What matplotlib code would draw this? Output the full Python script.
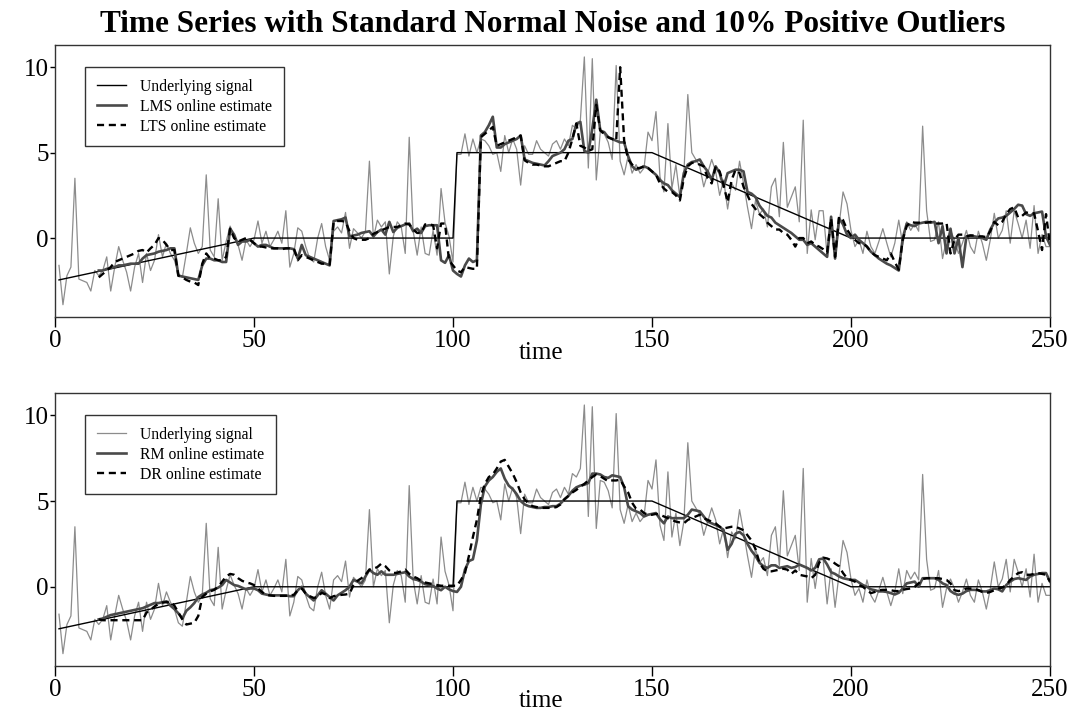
import matplotlib
matplotlib.use("Agg")
import matplotlib.pyplot as plt
from matplotlib.lines import Line2D
import numpy as np

plt.rcParams['font.family'] = ['Liberation Serif', 'DejaVu Serif']

# ---------------- data ----------------
time_obs = list(range(1, 251))
time_est = list(range(11, 251))

# underlying signal knots
signal_t = [1, 50, 100, 101, 150, 200, 250]
signal_v = [-2.45, 0, 0, 5, 5, 0, 0]

observed = [
    -1.6, -3.9, -2.2, -1.7, 3.5, -2.4, -2.5, -2.6, -3.1, -1.9,
    -2.2, -1.9, -1.1, -3.1, -1.7, -0.5, -1.3, -2.0, -3.1, -1.7,
    -0.9, -2.6, -0.9, -1.9, -1.3, 0.2, -1.1, -0.3, -0.9, -1.3,
    -2.1, -2.3, -0.9, 0.6, -0.3, -0.9, -0.5, 3.7, -0.7, -1.1,
    2.3, -1.3, -0.2, 0.7, 0.1, -0.4, -1.3, -0.1, -0.5, -0.1,
    1.0, -0.3, 0.4, -0.5, -0.1, 0.4, -0.3, 1.6, -1.7, -0.9,
    0.6, 0.4, -0.5, -1.2, -1.4, 0.0, 0.85, -0.5, -1.3, 0.4,
    0.65, 0.3, 1.5, -0.6, 0.55, 0.3, 0.0, 0.4, 4.5, 0.0,
    1.05, 0.65, 0.95, -2.1, 0.1, 0.95, 0.65, -0.9, 5.9, 0.4,
    -1.0, 0.65, -0.9, -1.0, 0.45, -1.0, 2.9, 0.9, 0.1, -1.4,
    4.9, 4.9, 6.1, 4.8, 5.8, 5.0, 5.8, 5.7, 5.4, 4.9,
    5.0, 3.9, 6.0, 5.0, 5.8, 5.2, 3.1, 5.4, 4.9, 4.9,
    5.7, 5.2, 5.0, 4.8, 5.5, 5.7, 5.2, 5.8, 5.4, 6.6,
    6.4, 6.9, 10.6, 4.1, 10.5, 3.4, 6.2, 6.1, 5.6, 4.6,
    10.1, 4.5, 3.7, 4.8, 3.8, 4.3, 3.8, 4.1, 6.2, 5.7,
    7.4, 3.6, 2.7, 6.7, 2.9, 4.3, 2.4, 3.8, 8.4, 5.0,
    4.6, 4.2, 3.0, 3.8, 4.6, 3.9, 2.5, 3.4, 1.7, 3.2,
    2.8, 4.5, 3.2, 1.8, 0.55, 2.2, 1.4, 1.7, 0.65, 3.0,
    3.5, 1.25, 5.6, 1.8, 2.4, 3.0, 0.95, 6.9, -0.9, 1.65,
    -0.1, 1.6, 1.6, -1.0, 1.05, -1.2, 0.75, 2.7, 2.0, 0.45,
    -0.5, -0.1, -0.9, 0.4, -0.5, -0.9, -0.2, 0.55, -0.3, -1.1,
    -0.3, 1.05, -0.4, 0.95, 0.45, 0.85, 0.4, 6.55, 1.6, -0.2,
    -0.1, 0.95, -1.2, -0.1, 0.45, -0.1, -0.9, -0.3, 0.45, -0.5,
    -0.9, 0.4, -0.3, -1.3, -0.1, 1.45, 0.0, 0.45, 1.6, -0.3,
    1.6, 0.85, 0.0, 1.05, -0.6, 1.9, -0.9, 0.2, -0.5, -0.5,
]

lms = [
    -1.9, -1.9, -1.8, -1.75, -1.7, -1.6, -1.6, -1.55, -1.5, -1.5,
    -1.5, -1.2, -1.0, -0.95, -0.9, -0.8, -0.75, -0.7, -0.6, -0.6,
    -2.2, -2.25, -2.3, -2.35, -2.4, -2.45, -1.6, -1.2, -1.2, -1.3,
    -1.3, -1.4, -1.4, 0.55, 0.2, -0.4, -0.2, -0.2, -0.1, -0.3,
    -0.5, -0.4, -0.4, -0.5, -0.6, -0.6, -0.6, -0.6, -0.6, -0.65,
    -1.2, -0.4, -1.0, -1.1, -1.2, -1.3, -1.4, -1.5, -1.6, 1.0,
    1.05, 1.1, 1.2, 0.1, 0.15, 0.2, 0.3, 0.35, 0.4, 0.1,
    0.35, 0.5, 0.2, 0.95, 0.35, 0.6, 0.7, 0.8, 0.85, 0.4,
    0.55, 0.3, 0.7, 0.75, 0.75, 0.75, -1.3, -1.45, -1.0, -1.9,
    -2.1, -2.25, -1.6, -1.2, -1.4, -1.3, 6.0, 6.2, 6.6, 7.1,
    5.3, 5.3, 5.5, 5.6, 5.7, 5.8, 6.0, 4.6, 4.5, 4.4,
    4.35, 4.3, 4.25, 4.5, 4.8, 4.9, 5.0, 5.2, 5.7, 5.8,
    6.7, 6.8, 5.1, 5.0, 6.4, 8.1, 6.3, 6.2, 5.9, 5.8,
    5.7, 5.6, 5.6, 4.8, 4.2, 4.0, 4.1, 4.2, 4.1, 3.9,
    3.7, 3.4, 3.2, 3.1, 2.8, 2.6, 2.4, 3.8, 4.3, 4.45,
    4.5, 4.6, 4.2, 3.9, 3.4, 4.2, 3.8, 3.0, 3.8, 3.9,
    4.0, 4.0, 3.9, 2.7, 2.6, 2.4, 1.9, 1.6, 1.3, 1.2,
    0.9, 0.75, 0.6, 0.45, 0.3, 0.1, -0.1, -0.1, -0.4, -0.3,
    -0.5, -0.7, -0.9, -1.1, 1.25, -1.2, 1.15, 0.8, 0.2, 0.0,
    0.2, -0.1, -0.3, -0.5, -0.8, -1.0, -1.2, -1.35, -1.5, -1.6,
    -1.75, -1.9, 0.0, 0.85, 0.75, 0.7, 0.85, 0.9, 0.95, 0.9,
    0.95, -0.3, 0.7, -0.9, 0.55, -0.9, 0.0, -1.7, 0.1, 0.15,
    0.1, 0.05, 0.0, -0.1, 0.5, 0.9, 1.15, 1.2, 1.3, 1.5,
    1.7, 1.95, 1.9, 1.4, 1.3, 1.45, 1.5, 1.55, 0.1, -0.4,
]

lts = [
    -2.3, -2.1, -1.9, -1.7, -1.4, -1.3, -1.2, -1.1, -1.0, -0.9,
    -0.75, -0.7, -0.85, -0.6, -0.4, 0.0, -0.1, -0.4, -0.7, -0.7,
    -2.2, -2.3, -2.45, -2.55, -2.6, -2.75, -1.5, -0.9, -1.2, -1.2,
    -1.3, -1.3, -1.1, 0.55, 0.0, -0.2, -0.1, 0.0, -0.1, -0.3,
    -0.5, -0.5, -0.55, -0.6, -0.6, -0.6, -0.65, -0.6, -0.6, -0.6,
    -1.3, -1.0, -1.1, -1.2, -1.3, -1.4, -1.5, -1.5, -1.55, 0.95,
    1.0, 1.0, 0.95, 0.4, 0.0, -0.1, -0.1, -0.1, 0.0, 0.25,
    0.35, 0.45, 0.55, 0.65, 0.65, 0.65, 0.75, 0.85, 0.8, 0.5,
    0.3, 0.3, 0.8, 0.8, 0.75, -0.6, 0.85, 0.85, -1.3, -1.6,
    -1.9, -2.0, -1.7, -1.75, -1.8, -1.8, 5.9, 6.1, 6.3, 6.5,
    5.4, 5.5, 5.6, 5.7, 5.8, 5.9, 6.0, 4.55, 4.4, 4.3,
    4.3, 4.25, 4.2, 4.2, 4.3, 4.4, 4.5, 4.5, 5.0, 5.8,
    6.7, 5.4, 5.3, 5.1, 5.2, 7.8, 6.3, 6.1, 5.9, 5.8,
    5.7, 10.0, 5.7, 4.6, 4.3, 4.1, 4.1, 4.2, 4.1, 3.9,
    3.7, 3.2, 2.9, 2.7, 2.7, 2.5, 2.2, 3.5, 4.2, 4.4,
    4.4, 4.3, 4.2, 3.5, 3.2, 4.2, 3.9, 3.1, 2.1, 3.4,
    4.0, 3.8, 3.0, 2.5, 2.0, 1.7, 1.4, 1.2, 0.9, 0.7,
    0.5, 0.5, 0.3, 0.2, -0.1, -0.5, 0.0, 0.0, -0.3, -0.2,
    -0.4, -0.5, -0.65, -0.85, 1.15, -1.1, 1.25, 1.05, 0.5, 0.15,
    -0.1, -0.3, -0.3, -0.5, -0.8, -1.0, -1.1, -1.2, -1.3, -0.9,
    -1.4, -1.85, -0.1, 0.7, 0.95, 0.9, 0.9, 0.9, 0.9, 0.95,
    0.85, 0.85, 0.85, 0.9, -0.9, -0.1, 0.2, 0.2, 0.1, 0.15,
    0.15, 0.1, 0.1, 0.05, 0.4, 0.95, 0.75, 0.95, 1.4, 1.7,
    1.8, 1.2, 1.3, 1.5, 1.45, 1.45, 0.4, -0.7, 1.4, -0.4,
]

rm = [
    -1.9, -1.85, -1.75, -1.65, -1.6, -1.55, -1.5, -1.45, -1.4, -1.35,
    -1.3, -1.25, -1.15, -1.05, -0.95, -0.95, -0.9, -0.85, -1.1, -1.3,
    -1.55, -1.85, -1.4, -1.2, -0.95, -0.6, -0.45, -0.35, -0.2, -0.15,
    -0.05, 0.1, 0.4, 0.25, 0.1, 0.05, -0.05, -0.15, -0.1, -0.1,
    -0.2, -0.4, -0.45, -0.5, -0.5, -0.5, -0.5, -0.5, -0.55, -0.55,
    -0.2, 0.0, -0.4, -0.6, -0.8, -0.5, -0.2, -0.4, -0.6, -0.8,
    -0.5, -0.35, -0.2, 0.0, 0.4, 0.3, 0.2, 0.6, 1.0, 0.8,
    0.7, 0.9, 0.7, 0.7, 0.7, 0.75, 0.8, 0.85, 0.6, 0.45,
    0.4, 0.3, 0.15, 0.1, 0.05, -0.1, -0.2, 0.0, -0.15, -0.25,
    -0.3, 0.0, 1.0, 1.5, 1.6, 2.7, 4.8, 5.85, 6.2, 6.4,
    6.7, 6.9, 6.3, 5.9, 5.7, 5.4, 5.0, 4.8, 4.7, 4.65,
    4.6, 4.6, 4.65, 4.65, 4.7, 4.7, 4.85, 5.1, 5.3, 5.6,
    5.8, 5.9, 5.95, 6.05, 6.6, 6.6, 6.55, 6.4, 6.35, 6.5,
    6.45, 6.4, 5.8, 4.7, 4.5, 4.4, 4.3, 4.1, 4.2, 4.25,
    4.3, 3.95, 3.7, 4.1, 4.0, 4.0, 4.0, 4.0, 4.2, 4.5,
    4.45, 4.4, 4.1, 3.8, 3.7, 3.6, 3.5, 3.3, 2.15, 2.5,
    3.1, 3.2, 3.0, 2.5, 2.1, 1.8, 1.4, 1.2, 1.1, 1.25,
    1.25, 1.1, 1.15, 1.2, 1.1, 1.15, 1.3, 1.2, 1.1, 0.95,
    1.1, 1.6, 1.65, 1.3, 0.85, 0.75, 0.6, 0.5, 0.45, 0.4,
    0.4, 0.25, 0.1, 0.0, -0.15, -0.2, -0.27, -0.27, -0.3, -0.37,
    -0.45, -0.35, -0.1, 0.2, 0.25, 0.3, 0.0, 0.5, 0.5, 0.5,
    0.5, 0.4, 0.2, 0.1, -0.25, -0.4, -0.47, -0.4, -0.25, -0.18,
    -0.18, -0.2, -0.27, -0.27, -0.2, -0.1, -0.15, -0.27, 0.1, 0.3,
    0.45, 0.5, 0.45, 0.4, 0.6, 0.7, 0.75, 0.8, 0.8, 0.3,
]

dr = [
    -1.9, -1.95, -1.95, -1.95, -1.95, -1.95, -1.95, -1.95, -1.95, -1.95,
    -1.95, -1.95, -1.5, -1.35, -1.15, -1.0, -0.92, -0.9, -0.86, -1.1,
    -1.5, -1.9, -2.2, -2.15, -2.1, -1.7, -0.6, -0.4, -0.27, -0.18,
    0.0, 0.3, 0.6, 0.75, 0.7, 0.5, 0.35, 0.25, 0.2, 0.1,
    -0.1, -0.3, -0.47, -0.5, -0.53, -0.53, -0.53, -0.53, -0.5, -0.47,
    -0.2, -0.1, -0.4, -0.55, -0.65, -0.6, -0.35, -0.45, -0.66, -0.55,
    -0.5, -0.47, -0.45, -0.4, 0.1, 0.35, 0.5, 0.7, 1.0, 1.05,
    1.15, 1.35, 1.2, 0.95, 0.8, 0.82, 0.9, 1.0, 0.75, 0.6,
    0.5, 0.35, 0.25, 0.2, 0.15, 0.1, 0.06, 0.06, 0.06, 0.06,
    0.06, 0.4, 0.8, 1.8, 2.9, 3.9, 5.3, 6.0, 6.4, 6.55,
    6.9, 7.3, 7.4, 7.0, 6.6, 6.1, 5.5, 5.1, 4.85, 4.7,
    4.65, 4.6, 4.6, 4.6, 4.6, 4.65, 4.8, 5.1, 5.3, 5.5,
    5.65, 5.85, 6.0, 6.2, 6.4, 6.55, 6.45, 6.3, 6.15, 6.2,
    6.2, 6.25, 5.85, 5.5, 4.9, 4.55, 4.5, 4.3, 4.2, 4.2,
    4.25, 4.2, 4.1, 4.0, 3.9, 3.8, 3.75, 3.7, 3.9, 4.0,
    4.1, 4.2, 4.0, 3.9, 3.8, 3.7, 3.5, 3.4, 3.45, 3.5,
    3.5, 3.4, 3.3, 3.0, 2.7, 2.2, 1.4, 1.05, 0.9, 0.9,
    0.95, 1.0, 1.05, 1.0, 0.75, 0.95, 0.7, 0.65, 0.6, 0.5,
    0.7, 1.4, 1.7, 1.65, 1.55, 1.35, 1.2, 0.8, 0.5, 0.4,
    0.3, 0.1, 0.0, -0.2, -0.37, -0.3, -0.2, -0.18, -0.18, -0.2,
    -0.25, -0.25, -0.18, -0.13, -0.1, 0.0, 0.2, 0.45, 0.5, 0.5,
    0.5, 0.5, 0.45, 0.4, 0.2, -0.2, -0.25, -0.2, -0.1, -0.1,
    -0.1, -0.2, -0.3, -0.37, -0.3, -0.2, -0.1, -0.05, 0.1, 0.4,
    0.6, 0.8, 0.85, 0.7, 0.7, 0.75, 0.8, 0.75, 0.7, 0.3,
]

title = "Time Series with Standard Normal Noise and 10% Positive Outliers"
xticks = [0, 50, 100, 150, 200, 250]
yticks = [0, 5, 10]

# ---------------- styles ----------------
C_OBS = "#8c8c8c"
C_EST = "#4a4a4a"
W, H = 1075, 710

fig = plt.figure(figsize=(W / 100, H / 100), dpi=100)
ax1 = fig.add_axes([55 / W, (H - 317) / H, 995 / W, 272 / H])
ax2 = fig.add_axes([55 / W, (H - 666) / H, 995 / W, 273 / H])


def style(ax, label_y):
    ax.set_xlim(0, 250)
    ax.set_ylim(-4.62, 11.3)
    ax.set_xticks(xticks)
    ax.set_yticks(yticks)
    ax.tick_params(axis='x', direction='out', length=7.2, width=1,
                   labelsize=18, pad=2, colors='black')
    ax.tick_params(axis='y', direction='out', length=3.6, width=1,
                   labelsize=18, pad=1, colors='black')
    for s in ax.spines.values():
        s.set_linewidth(1.0)
        s.set_color('#333333')
    ax.set_xlabel("time", fontsize=18)
    ax.xaxis.set_label_coords((541 - 55) / 995, label_y)
    ax.xaxis.label.set_va('baseline')


LEG_KW = dict(loc='upper left', borderaxespad=0, fontsize=11.3,
              handlelength=1.85, labelspacing=0.25, fancybox=False,
              framealpha=1, edgecolor='#333333', borderpad=0.75,
              handletextpad=0.9)

# top panel
ax1.plot(time_obs, observed, color=C_OBS, lw=0.9, zorder=1)
ax1.plot(signal_t, signal_v, color='black', lw=1.0, zorder=2)
ax1.plot(time_est, lms, color=C_EST, lw=1.9, zorder=3)
ax1.plot(time_est, lts, color='black', lw=1.7, ls=(0, (3, 2)), zorder=4)
style(ax1, (317 - 359) / 272)
ax1.set_title(title, fontsize=22.5, fontweight='bold', pad=9)

h1 = [Line2D([], [], color='black', lw=1.0),
      Line2D([], [], color=C_EST, lw=1.9),
      Line2D([], [], color='black', lw=1.7, ls=(0, (3, 2)))]
leg1 = ax1.legend(h1, ["Underlying signal", "LMS online estimate", "LTS online estimate"],
                  bbox_to_anchor=(30 / 995, 1 - 22 / 272), **LEG_KW)
leg1.get_frame().set_linewidth(1.0)

# bottom panel
ax2.plot(time_obs, observed, color=C_OBS, lw=0.9, zorder=1)
ax2.plot(signal_t, signal_v, color='black', lw=1.0, zorder=2)
ax2.plot(time_est, rm, color=C_EST, lw=1.9, zorder=3)
ax2.plot(time_est, dr, color='black', lw=1.7, ls=(0, (3, 2)), zorder=4)
style(ax2, (666 - 707) / 273)

h2 = [Line2D([], [], color=C_OBS, lw=0.9),
      Line2D([], [], color=C_EST, lw=1.9),
      Line2D([], [], color='black', lw=1.7, ls=(0, (3, 2)))]
leg2 = ax2.legend(h2, ["Underlying signal", "RM online estimate", "DR online estimate"],
                  bbox_to_anchor=(30 / 995, 1 - 22 / 273), **LEG_KW)
leg2.get_frame().set_linewidth(1.0)

fig.savefig("out.png", dpi=100)
